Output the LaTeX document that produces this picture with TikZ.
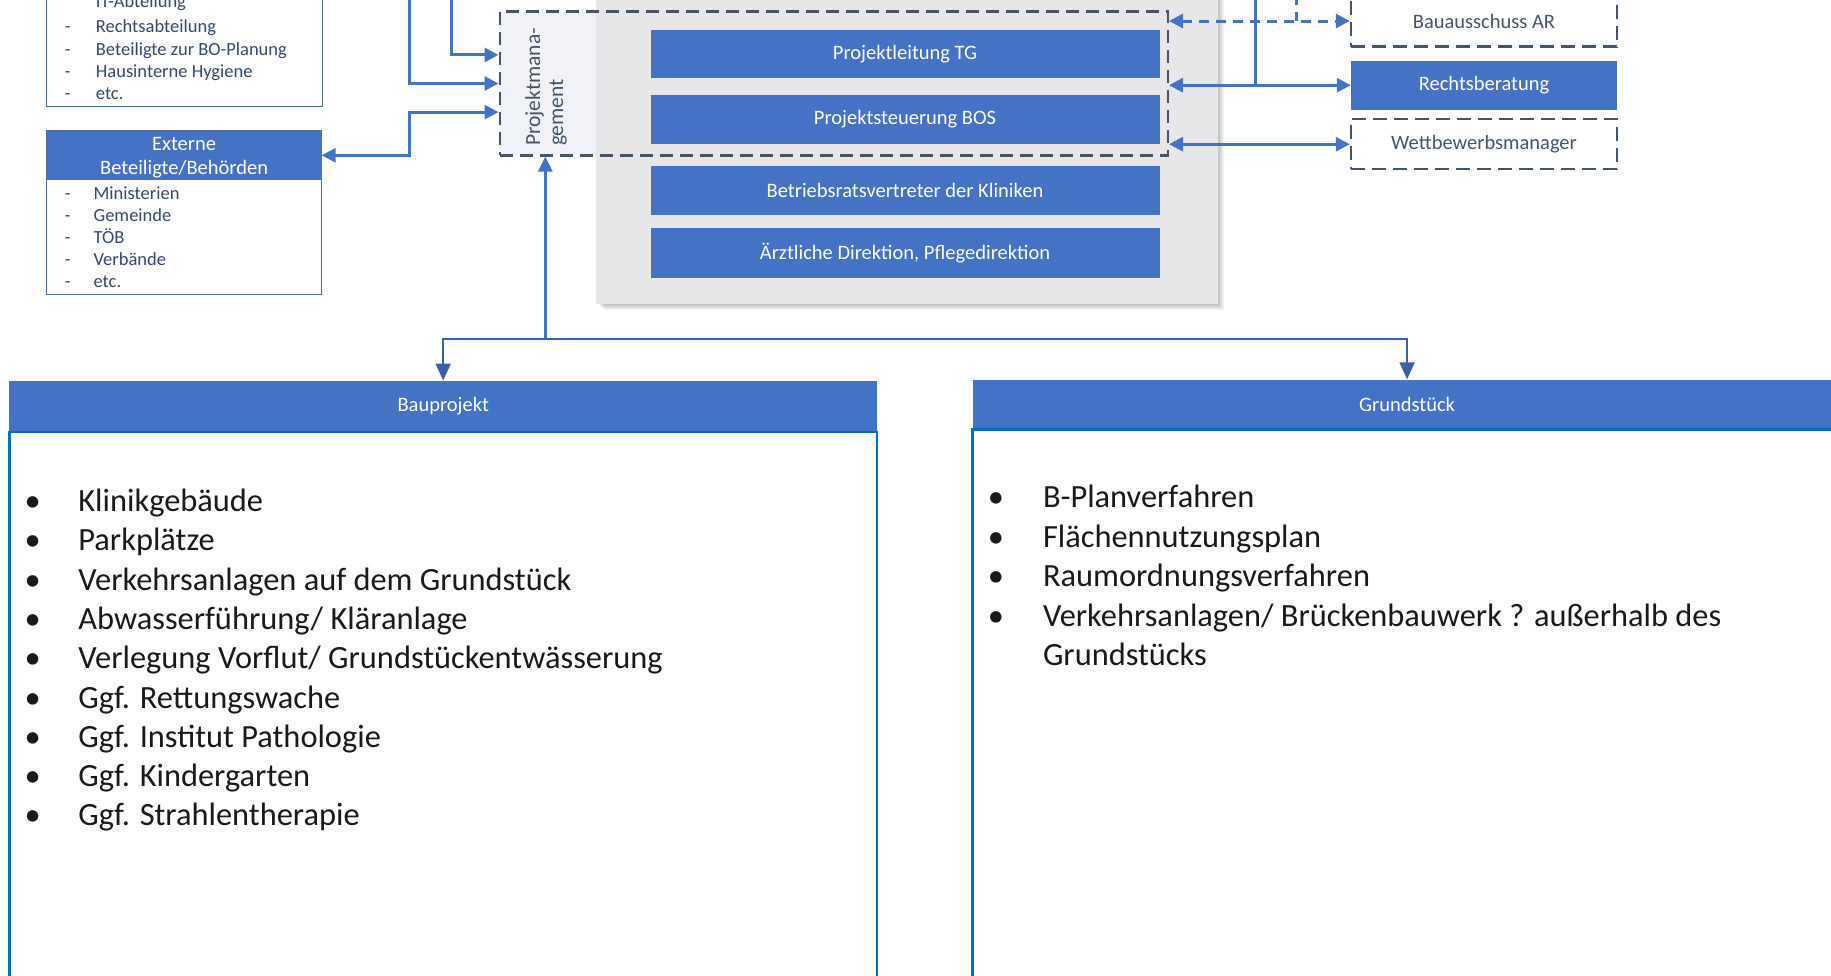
\documentclass[tikz,border=0pt]{standalone}
\usepackage{fontspec}
\setmainfont{Carlito}
\usetikzlibrary{arrows.meta,calc}
\definecolor{myblue}{RGB}{68,114,196}
\definecolor{bodyblue}{RGB}{0,112,192}
\definecolor{dashgray}{RGB}{68,84,106}
\definecolor{panelgray}{RGB}{231,231,233}
\definecolor{pmfill}{RGB}{240,242,247}
\definecolor{listtext}{RGB}{52,72,110}
\definecolor{listborder}{RGB}{80,110,160}
\tikzset{atip/.tip={Triangle[length=14pt,width=14pt]}}
\begin{document}
\begin{tikzpicture}[x=1pt,y=-1pt,
  bluebox/.style={fill=myblue, text=white, inner sep=0pt, font=\fontsize{20.5}{24}\selectfont},
  dashbox/.style={draw=dashgray, line width=2.5pt, dash pattern=on 14pt off 7pt, inner sep=0pt, text=dashgray, font=\fontsize{20.5}{24}\selectfont},
  pmbox/.style={draw=dashgray, line width=2.5pt, dash pattern=on 13pt off 7pt, inner sep=0pt},
  listbox/.style={draw=listborder, line width=1.5pt, fill=white, inner sep=0pt},
  smalltext/.style={text=listtext, inner sep=0pt, font=\fontsize{18.5}{22}\selectfont},
  bigtext/.style={text=black!90, inner sep=0pt, font=\fontsize{32.4}{39}\selectfont},
  conn/.style={draw=myblue, line width=3pt, -{atip}},
  dconn/.style={draw=myblue, line width=3pt, {atip}-{atip}},
  plainline/.style={draw=myblue, line width=3pt},
  upconn/.style={draw=myblue, line width=2.5pt, -{Triangle[length=15pt,width=14pt]}},
  downconn/.style={draw=myblue!85!black, line width=2pt, -{Triangle[length=17pt,width=15pt]}},
  headbox/.style={fill=myblue, text=white, inner sep=0pt, font=\fontsize{20.5}{24}\selectfont},
  bodybox/.style={draw=bodyblue, line width=2.5pt, inner sep=0pt}
]
\useasboundingbox (0,0) rectangle (1831,975);
\clip (0,0) rectangle (1831,975);

% grey panel with soft shadow
\foreach \k in {1,...,6}
  \fill[black, opacity=0.045] (595.5+\k+2,-20) rectangle (1217.9+\k,303.6+\k);
\node[fill=panelgray, inner sep=0pt, minimum width=622.4pt, minimum height=323.6pt] (panel) at (906.7,141.8) {};
\fill[pmfill] (499.8,11.7) rectangle (595.5,155.3);

% blue boxes in the panel
\node[bluebox, minimum width=509pt, minimum height=48pt] (plt) at (905,54) {Projektleitung TG};
\node[bluebox, minimum width=509pt, minimum height=49pt] (pst) at (905,119.1) {Projektsteuerung BOS};
\node[bluebox, minimum width=509pt, minimum height=49pt] (brv) at (905,190.3) {Betriebsratsvertreter der Kliniken};
\node[bluebox, minimum width=509pt, minimum height=50pt] (aed) at (905,252.8) {Ärztliche Direktion, Pflegedirektion};

% Projektmanagement dashed box
\node[pmbox, minimum width=668pt, minimum height=143.6pt] (pm) at (833.75,83.5) {};
\node[rotate=90, align=left, inner sep=0pt, text=dashgray, font=\fontsize{21.5}{23}\selectfont] (pmlabel) at (546,87) {Projektmana-\\gement};

% right boxes
\node[dashbox, minimum width=266pt, minimum height=51pt] (bau) at (1484,21) {Bauausschuss AR};
\node[bluebox, minimum width=266pt, minimum height=49pt] (rb) at (1484,85.2) {Rechtsberatung};
\node[dashbox, minimum width=266pt, minimum height=50pt] (wb) at (1484,144.2) {Wettbewerbsmanager};

% internal list box (top left)
\node[listbox, minimum width=275.6pt, minimum height=126.3pt] (ib) at (184.5,43.15) {};
\node[smalltext, anchor=base west] (ibt1) at (95.7,7) {IT-Abteilung};
\foreach \t [count=\i from 2] in {Rechtsabteilung, Beteiligte zur BO-Planung, Hausinterne Hygiene, etc.} {
  \node[smalltext, anchor=base] (ibd\i) at (67.7,{10.5+22.3*(\i-1)}) {-};
  \node[smalltext, anchor=base west] (ibt\i) at (95.7,{10.5+22.3*(\i-1)}) {\t};
}

% Externe Beteiligte box
\node[listbox, minimum width=274.8pt, minimum height=163.5pt] (eb) at (184.1,212.55) {};
\node[headbox, align=center, minimum width=274.8pt, minimum height=49pt, font=\fontsize{20.5}{24.5}\selectfont] (eh) at (184.1,155.3) {};
\node[headbox, align=center, inner sep=0pt, font=\fontsize{20.5}{24.5}\selectfont] (ehtext) at (184.1,157.5) {Externe\\Beteiligte/Behörden};
\foreach \t [count=\i] in {Ministerien, Gemeinde, TÖB, Verbände, etc.} {
  \node[smalltext, anchor=base] (ebd\i) at (67.7,{199.8+21.9*(\i-1)}) {-};
  \node[smalltext, anchor=base west] (ebt\i) at (93.4,{199.8+21.9*(\i-1)}) {\t};
}

% left connectors
\coordinate (a0) at (409.9,-5);
\coordinate (b0) at (451.9,-5);
\draw[conn] (a0) |- (pm.west);
\draw[conn] (b0) |- ([yshift=28.6pt]pm.west);
\coordinate (c1) at (409.9,112.1);
\draw[dconn] (eh.east) -| (c1) -- ([yshift=-28.6pt]pm.west);

% right connectors
\coordinate (d0) at (1296,-5);
\coordinate (r0) at (1255.3,-5);
\draw[draw=myblue, line width=3pt, dash pattern=on 10pt off 7pt] (d0) -- (d0 |- bau.west);
\draw[dconn, dash pattern=on 10pt off 7pt] (pm.east |- bau.west) -- (bau.west);
\draw[plainline] (r0) -- (r0 |- rb.west);
\draw[dconn] (pm.east |- rb.west) -- (rb.west);
\draw[dconn] (pm.east |- wb.west) -- (wb.west);

% bottom boxes
\node[headbox, minimum width=867.7pt, minimum height=51.3pt] (bph) at (443.2,406.4) {Bauprojekt};
\node[bodybox, minimum width=867.7pt, minimum height=568pt] (bpb) at (443.2,716) {};
\node[headbox, minimum width=868.8pt, minimum height=50.2pt] (gsh) at (1407.1,404.6) {Grundstück};
\node[bodybox, minimum width=868.8pt, minimum height=570.3pt] (gsb) at (1407.1,714.85) {};

% bottom connectors
\coordinate (j) at (545.3,338.6);
\draw[upconn] (j) -- (j |- pm.south);
\draw[downconn] (j) -| (bph.north);
\draw[downconn] (j) -| (gsh.north);

% Bauprojekt list
\foreach \t [count=\i] in {Klinikgebäude, Parkplätze, Verkehrsanlagen auf dem Grundstück, Abwasserführung/ Kläranlage, Verlegung Vorflut/ Grundstückentwässerung, Ggf. Rettungswache, Ggf. Institut Pathologie, Ggf. Kindergarten, Ggf. Strahlentherapie} {
  \node[bigtext, anchor=base] (bpbul\i) at (32.7,{511.5+39.3*(\i-1)}) {\textbullet};
  \node[bigtext, anchor=base west] (bpit\i) at (78.2,{511.5+39.3*(\i-1)}) {\t};
}

% Grundstueck list
\foreach \t [count=\i] in {B-Planverfahren, Flächennutzungsplan, Raumordnungsverfahren, Verkehrsanlagen/ Brückenbauwerk ? außerhalb des} {
  \node[bigtext, anchor=base] (gsbul\i) at (996,{507.9+39.4*(\i-1)}) {\textbullet};
  \node[bigtext, anchor=base west] (gsit\i) at (1042.8,{507.9+39.4*(\i-1)}) {\t};
}
\node[bigtext, anchor=base west] (gsit5) at (1042.8,665.5) {Grundstücks};
\end{tikzpicture}
\end{document}
